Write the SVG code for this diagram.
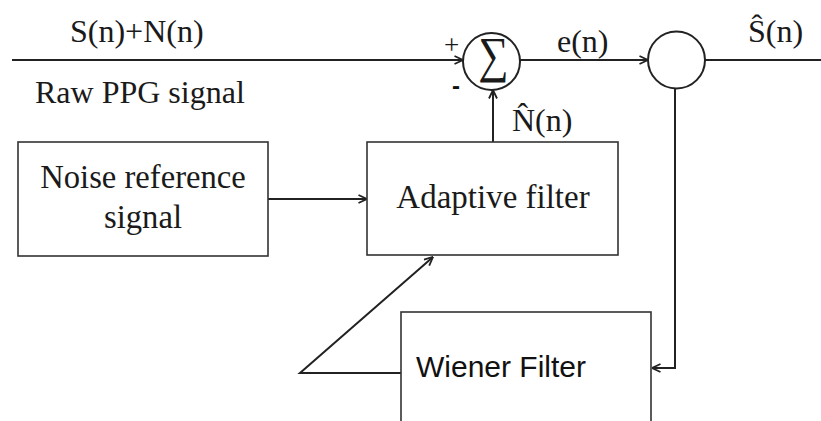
<svg xmlns="http://www.w3.org/2000/svg" width="821" height="421" viewBox="0 0 821 421">
  <style>
    .ln { stroke: #222; stroke-width: 2; fill: none; }
    .box { stroke: #333; stroke-width: 1.6; fill: #fff; }
    .serif { font-family: "Liberation Serif", "Times New Roman", serif; fill: #1a1a1a; }
    .sans { font-family: "Liberation Sans", Arial, sans-serif; fill: #111; }
  </style>
  <defs>
    <marker id="arrow" viewBox="0 0 10 10" refX="9.5" refY="5" markerWidth="10" markerHeight="10" markerUnits="userSpaceOnUse" orient="auto">
      <path d="M1,1 L9.5,5 L1,9" fill="none" stroke="#222" stroke-width="1.8"/>
    </marker>
  </defs>
  <rect width="821" height="421" fill="#fff"/>

  <!-- connectors -->
  <g id="connectors">
    <line class="ln" x1="12" y1="60" x2="463" y2="60" marker-end="url(#arrow)"/>
    <line class="ln" x1="520" y1="60" x2="648" y2="60" marker-end="url(#arrow)"/>
    <line class="ln" x1="705" y1="60" x2="821" y2="60"/>
    <line class="ln" x1="493" y1="142" x2="493" y2="90" marker-end="url(#arrow)"/>
    <line class="ln" x1="268" y1="199" x2="367" y2="199" marker-end="url(#arrow)"/>
    <polyline class="ln" points="675,89 675,368 652,368" marker-end="url(#arrow)"/>
    <polyline class="ln" points="401,373 300,373 433,257" marker-end="url(#arrow)"/>
  </g>

  <!-- labels on the signal path -->
  <text class="serif" x="70" y="42" font-size="32">S(n)+N(n)</text>
  <text class="serif" x="35" y="103" font-size="32">Raw PPG signal</text>
  <text class="serif" x="557" y="52" font-size="32">e(n)</text>
  <text class="serif" x="748" y="42" font-size="32">Ŝ(n)</text>
  <text class="serif" x="512" y="131" font-size="32">N̂(n)</text>
  <text class="serif" x="444" y="54" font-size="27">+</text>
  <text class="sans" x="452" y="94" font-size="24" font-weight="bold">-</text>

  <g id="sum">
    <circle class="ln" cx="491.5" cy="61.5" r="28.5"/>
    <text class="serif" font-size="50" text-anchor="middle" transform="translate(493.5,72) scale(0.85,1)">∑</text>
  </g>

  <g id="junction">
    <circle class="ln" cx="676.5" cy="60" r="28.5"/>
  </g>

  <g id="noise-reference">
    <rect class="box" x="18" y="142" width="250" height="114"/>
    <text class="serif" font-size="32" text-anchor="middle" transform="translate(143,188) scale(1.02,1.08)">Noise reference</text>
    <text class="serif" font-size="32" text-anchor="middle" transform="translate(143,228) scale(1.02,1.08)">signal</text>
  </g>

  <g id="adaptive-filter">
    <rect class="box" x="367" y="142" width="251" height="113"/>
    <text class="serif" font-size="33" text-anchor="middle" transform="translate(493,208) scale(1,1.05)">Adaptive filter</text>
  </g>

  <g id="wiener-filter">
    <rect class="box" x="401" y="312" width="250" height="140"/>
    <text class="sans" x="416" y="377" font-size="30">Wiener Filter</text>
  </g>
</svg>
